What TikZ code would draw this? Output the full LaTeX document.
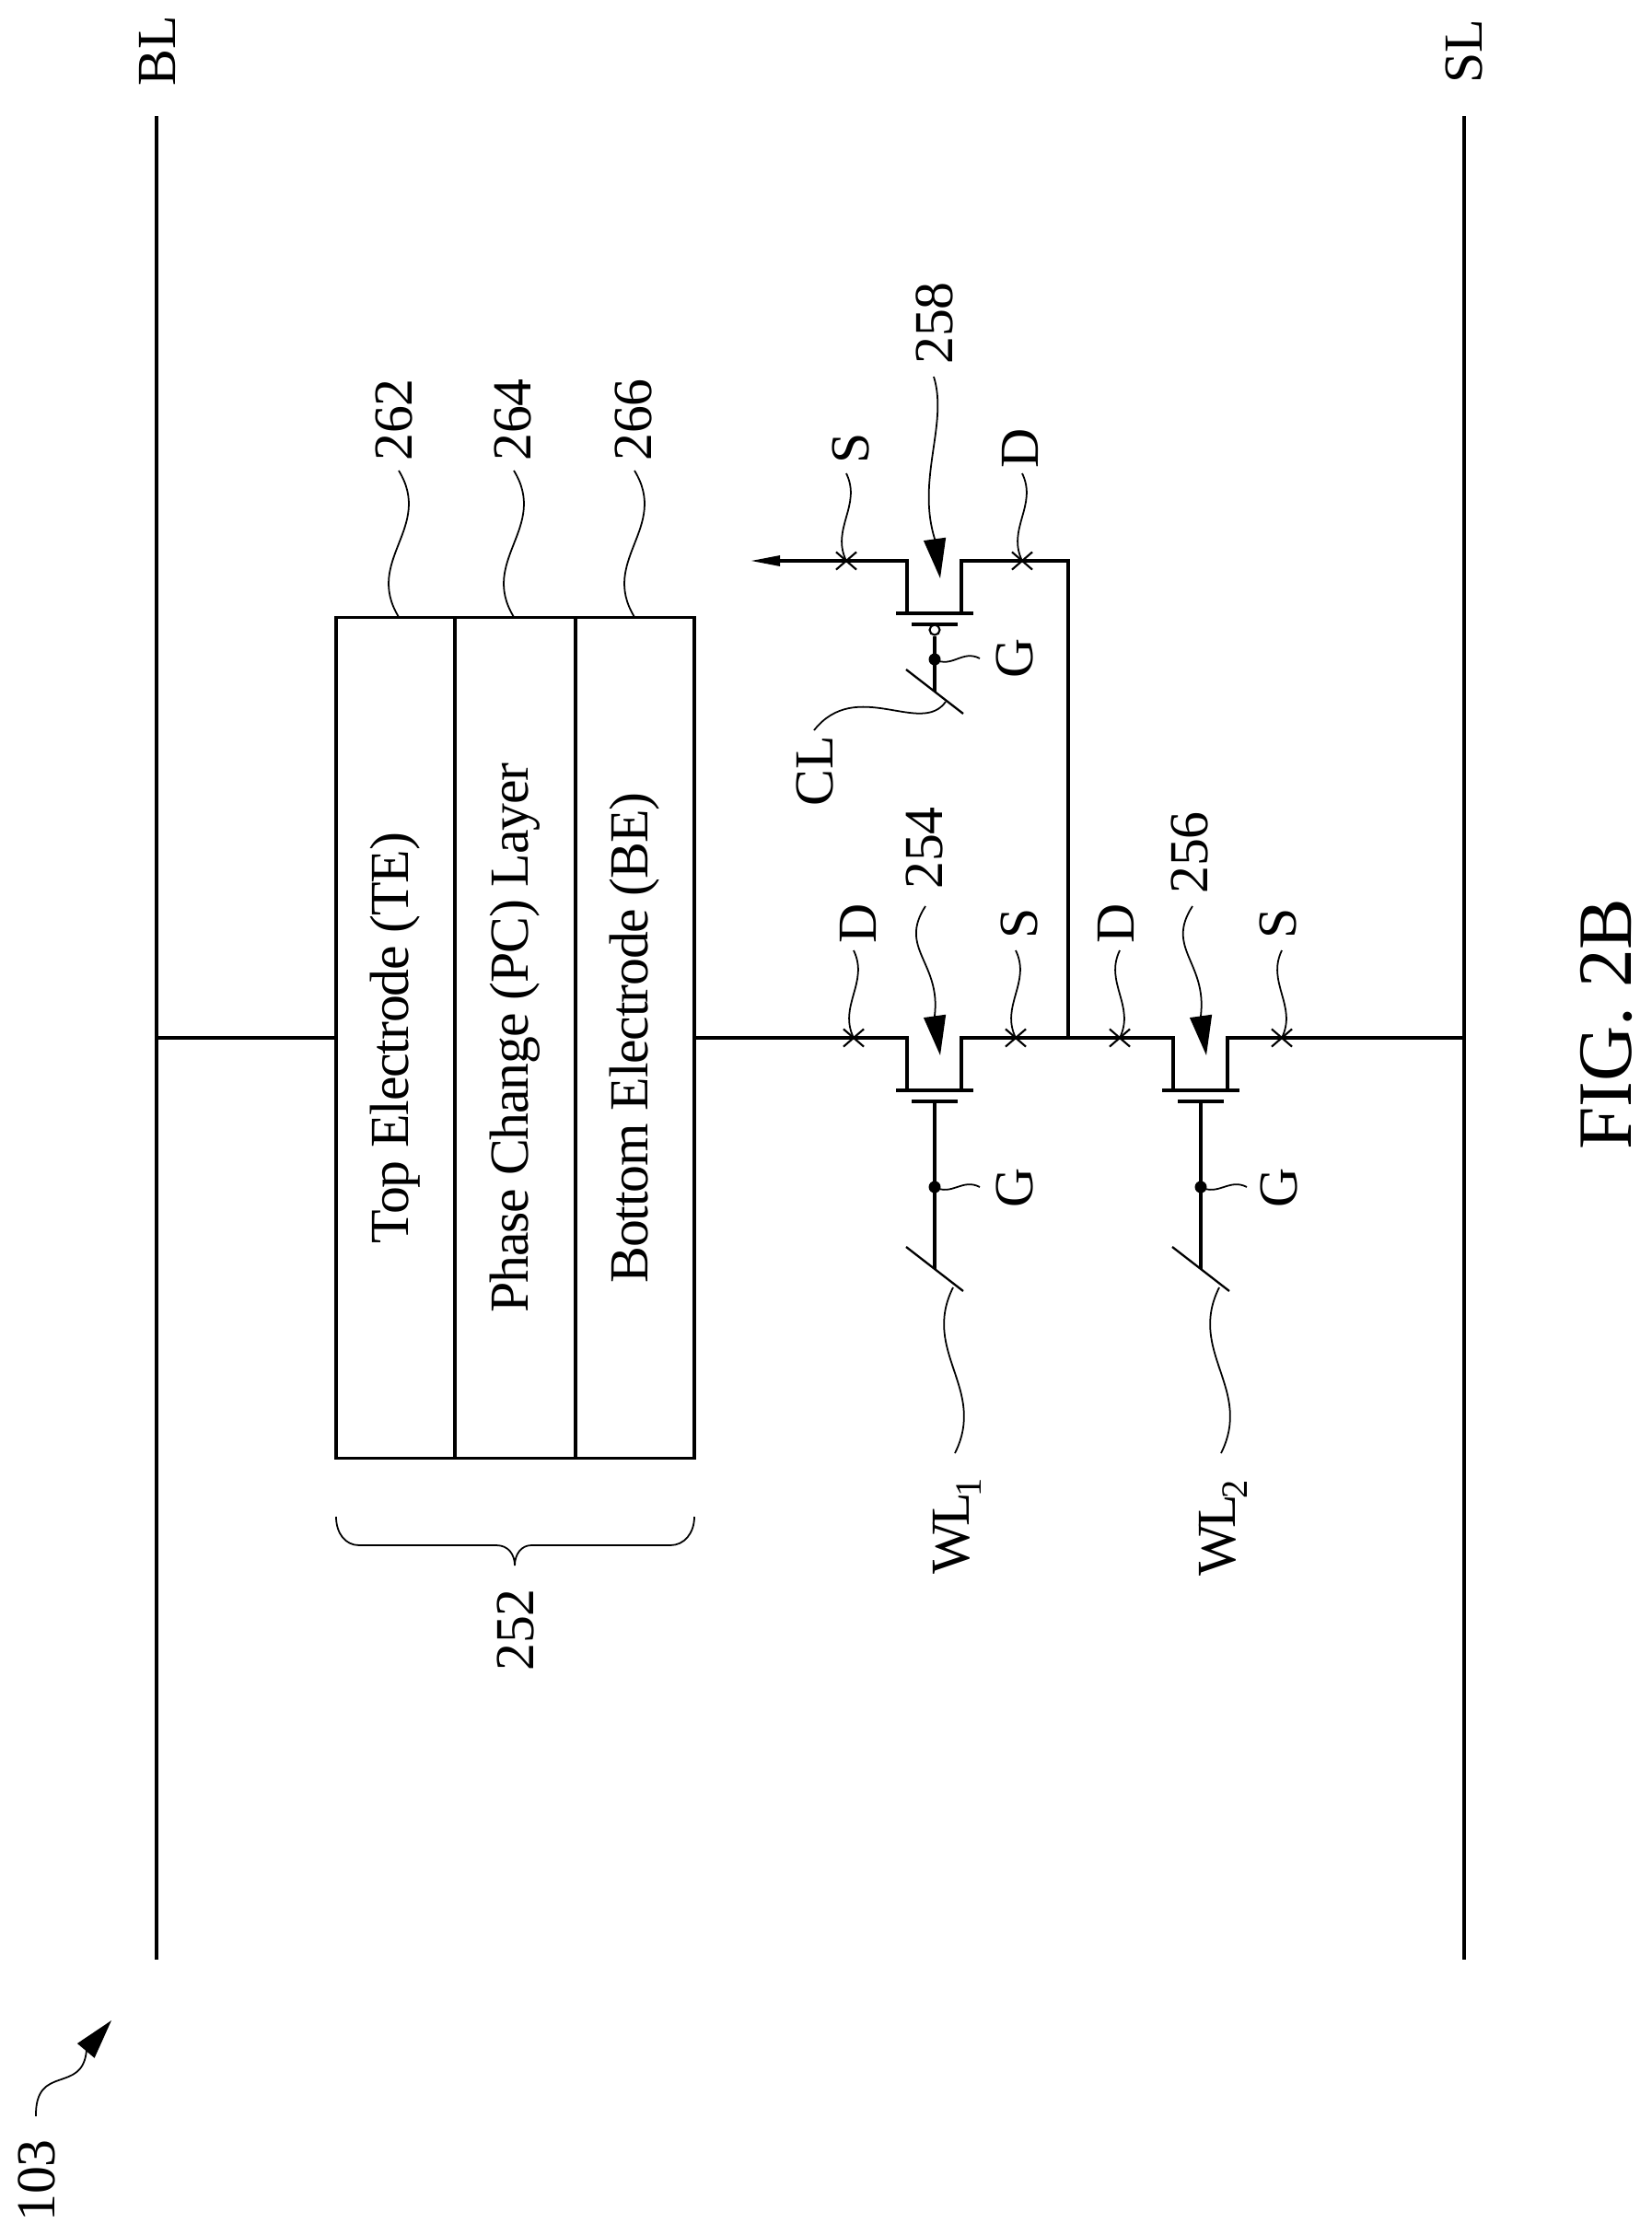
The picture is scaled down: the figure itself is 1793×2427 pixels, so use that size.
\documentclass[tikz,border=0pt]{standalone}
\usepackage{fontspec}
\setmainfont{Liberation Serif}
\usetikzlibrary{arrows.meta,shapes.misc}

\begin{document}
\begin{tikzpicture}[x=0.01cm,y=-0.01cm,>=Stealth]
 \tikzstyle{wire} = [line width=0.9pt,line join=miter]
 \tikzstyle{lead} = [line width=0.5pt]
 \tikzstyle{tick} = [line width=0.65pt]
 \tikzstyle{elemnode} = [fill,circle,inner sep=0,minimum size=0.13cm]
 \tikzstyle{bubble} = [draw,line width=0.6pt,fill=white,circle,inner sep=0,minimum size=0.11cm]
 \tikzstyle{xmark} = [draw,cross out,line width=0.6pt,inner sep=0,minimum width=0.2cm,minimum height=0.17cm]
 \tikzstyle{lab} = [rotate=90,inner sep=0,font=\fontsize{17}{20}\selectfont]
 \tikzstyle{layer} = [draw,line width=0.9pt,rotate=90,inner sep=0,minimum width=9.12cm,
   text height=0.39cm,text depth=0.12cm,font=\fontsize{17}{20}\selectfont\addfontfeature{LetterSpace=-2}]
 \tikzstyle{bighead} = [-{Triangle[length=0.43cm,width=0.24cm]}]
 \tikzset{wig/.style 2 args={to path={.. controls +(#1,#2) and +(-#1,-#2) .. (\tikztotarget)}}}
 % channel and gate bars, #1 name, #2 gate x, #3 wire y
 \newcommand{\fet}[3]{
  \coordinate (#1s) at (#2-30,#3);
  \coordinate (#1d) at (#2+29,#3);
  \coordinate (#1sb) at (#2-30,#3+57);
  \coordinate (#1db) at (#2+29,#3+57);
  \draw[wire] (#2-42,#3+57) -- (#2+42,#3+57);
  \draw[wire] (#2-25,#3+69) -- (#2+25,#3+69);
  \coordinate (#1g) at (#2,#3+69);
 }
 % line stroke on a gate, #1 name, #2 x, #3 y
 \newcommand{\stroke}[3]{
  \coordinate (#1a) at (#2-31,#3-24);
  \coordinate (#1b) at (#2+31,#3+24);
  \coordinate (#1) at (#2,#3);
  \draw[tick] (#1a) -- (#1b);
 }
 % word line label, #1 digit
 \newcommand{\wlname}[1]{W\kern-1.4pt L\kern-1.2pt\raisebox{-3.7pt}{\fontsize{11.5}{12}\selectfont #1}}
 \useasboundingbox (0,0) rectangle (1793,2427);

% Rails
 \coordinate (blt) at (170,126); \coordinate (blb) at (170,2128);
 \coordinate (slt) at (1590,126); \coordinate (slb) at (1590,2128);
 \coordinate (blw) at (170,1127); \coordinate (slw) at (1590,1127);
 \draw[wire] (blt) -- (blb);
 \draw[wire] (slt) -- (slb);
 \node[lab] (bl) at (171,55) {BL};
 \node[lab] (sl) at (1590,56) {SL};

% Stack
 \node[layer,minimum height=1.29cm] (te) at (429.5,1127) {Top Electrode (TE)};
 \node[layer,minimum height=1.31cm] (pc) at (559.5,1127) {Phase Change (PC) Layer};
 \node[layer,minimum height=1.29cm] (be) at (689.5,1127) {Bottom Electrode (BE)};
 \draw[lead] (365,1647) .. controls (365,1665) and (375,1678) .. (390,1678) -- (539,1678)
   .. controls (552,1678) and (559,1688) .. (559,1700) .. controls (559,1688) and (566,1678) .. (577,1678)
   -- (728,1678) .. controls (743,1678) and (754,1665) .. (754,1647);
 \node[lab] (n252) at (560,1770) {252};

 \node[lab] (n262) at (428,456) {262};
 \node[lab] (n264) at (557,456) {264};
 \node[lab] (n266) at (688,456) {266};
 \coordinate (l262) at (433,511); \coordinate (l264) at (558,511); \coordinate (l266) at (689,511);
 \coordinate (t262) at (433,670); \coordinate (t264) at (558,670); \coordinate (t266) at (689,670);
 \draw[lead,wig={38}{62}] (l262) to (t262);
 \draw[lead,wig={38}{62}] (l264) to (t264);
 \draw[lead,wig={38}{62}] (l266) to (t266);

% Transistors
 \fet{m1}{1015}{1127}
 \fet{m2}{1304}{1127}
 \fet{m3}{1015}{609}
 \coordinate (jn) at (1160,1127);
 \coordinate (out) at (815,609);
 \coordinate (corner) at (1160,609);
 \draw[wire] (blw) -- (te.north);
 \draw[wire] (be.south) -- (m1s) -- (m1sb);
 \draw[wire] (m1db) -- (m1d) -- (m2s) -- (m2sb);
 \draw[wire] (m2db) -- (m2d) -- (slw);
 \draw[wire] (jn) -- (corner) -- (m3d) -- (m3db);
 \draw[wire,-{Triangle[length=0.32cm,width=0.11cm]}] (m3sb) -- (m3s) -- (out);

% Gates
 \stroke{w1}{1015}{1378}
 \stroke{w2}{1304}{1378}
 \stroke{w3}{1015}{751}
 \node[elemnode] (g1) at (1015,1289) {};
 \node[elemnode] (g2) at (1304,1289) {};
 \node[elemnode] (g3) at (1015,716) {};
 \node[bubble] (bb) at (1015,684) {};
 \draw[wire] (m1g) -- (w1);
 \draw[wire] (m2g) -- (w2);
 \draw[wire] (bb) -- (w3);

% Terminal marks
 \node[xmark] (x1) at (927,1127) {}; \node[xmark] (x2) at (1103,1127) {};
 \node[xmark] (x3) at (1216,1127) {}; \node[xmark] (x4) at (1392,1127) {};
 \node[xmark] (x5) at (919,609) {}; \node[xmark] (x6) at (1110,609) {};

 \node[lab] (d1) at (932,1003) {D}; \node[lab] (s1) at (1107,1003) {S};
 \node[lab] (d2) at (1212,1003) {D}; \node[lab] (s2) at (1388,1003) {S};
 \node[lab] (s3) at (924,487) {S}; \node[lab] (d3) at (1108,487) {D};
 \node[lab] (gl1) at (1102,1290) {G}; \node[lab] (gl2) at (1389,1290) {G};
 \node[lab] (gl3) at (1102,715) {G};

 \coordinate (ld1) at (927,1032); \coordinate (ls1) at (1103,1032);
 \coordinate (ld2) at (1216,1032); \coordinate (ls2) at (1392,1032);
 \coordinate (ls3) at (919,514); \coordinate (ld3) at (1110,514);
 \draw[lead,wig={17}{35}] (ld1) to (x1.center);
 \draw[lead,wig={17}{35}] (ls1) to (x2.center);
 \draw[lead,wig={-17}{35}] (ld2) to (x3.center);
 \draw[lead,wig={-17}{35}] (ls2) to (x4.center);
 \draw[lead,wig={17}{35}] (ls3) to (x5.center);
 \draw[lead,wig={17}{35}] (ld3) to (x6.center);

 \coordinate (lg1) at (1064,1289); \coordinate (lg2) at (1354,1289); \coordinate (lg3) at (1064,715);
 \draw[lead,wig={19}{10}] (g1.center) to (lg1);
 \draw[lead,wig={19}{10}] (g2.center) to (lg2);
 \draw[lead,wig={19}{10}] (g3.center) to (lg3);

% Numbered arrows
 \node[lab] (n254) at (1004,921) {254};
 \node[lab] (n256) at (1292,926) {256};
 \node[lab] (n258) at (1015,351) {258};
 \draw[lead,bighead] (1005,984) .. controls (975,1030) and (1022,1045) .. (1015,1103) -- (1021,1146);
 \draw[lead,bighead] (1295,984) .. controls (1265,1030) and (1311,1045) .. (1304,1103) -- (1310,1146);
 \draw[lead,bighead] (1014,409) .. controls (1030,460) and (995,520) .. (1015,585) -- (1021,628);

% Line labels
 \node[lab,anchor=base] (wl1) at (1052,1657) {\wlname{1}};
 \node[lab,anchor=base] (wl2) at (1341,1659) {\wlname{2}};
 \node[lab] (cl) at (884.5,837) {CL};
 \coordinate (lw1) at (1037,1578); \coordinate (lw2) at (1326,1578);
 \coordinate (tw1) at (1035,1398); \coordinate (tw2) at (1324,1398);
 \draw[lead,wig={-35}{70}] (tw1) to (lw1);
 \draw[lead,wig={-35}{70}] (tw2) to (lw2);
 \coordinate (tw3) at (1027,762); \coordinate (lw3) at (884,793);
 \draw[lead] (tw3) .. controls (1000,800) and (930,735) .. (lw3);

% Figure tag and title
 \node[lab] (n103) at (40,2368) {103};
 \draw[lead,bighead] (39,2298) .. controls (38,2240) and (90,2275) .. (94,2226) -- (121,2194);
 \node[lab,font=\fontsize{23.7}{28}\selectfont] (fig) at (1744,1112) {FIG. 2B};

\end{tikzpicture}
\end{document}
